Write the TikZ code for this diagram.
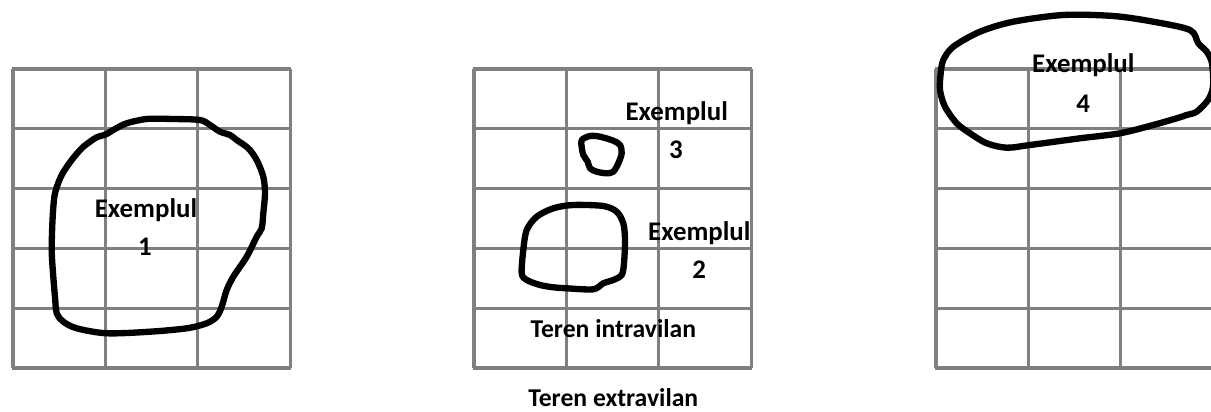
\documentclass[tikz,border=0pt]{standalone}
\usepackage{fontspec}
\setmainfont{Carlito}
\usetikzlibrary{positioning}

\tikzset{
  gridline/.style={draw=gray,line width=1.8pt},
  parcel/.style={draw=black,line width=3.6pt,line join=round,line cap=round},
  lbl/.style={font=\fontsize{15.3}{17}\selectfont\bfseries,inner sep=0pt},
  zone/.style={lbl,font=\fontsize{14.6}{17}\selectfont\bfseries}
}

\begin{document}
\begin{tikzpicture}[x=0.02cm,y=-0.02cm]
  \useasboundingbox (0,0) rectangle (1211,412);
  \clip (0,0) rectangle (1211,412);
  % the three grids, 3 columns x 5 rows
  \foreach \gx in {13,474,936}{
    \foreach \i in {0,...,3}
      \draw[gridline] ({\gx+\i*92.4},69) -- ({\gx+\i*92.4},368);
    \foreach \j in {0,...,5}
      \draw[gridline] (\gx-0.8,{69+\j*59.8}) -- ({\gx+278},{69+\j*59.8});
  }
  % example 1
  \draw[parcel] plot[smooth cycle,tension=0.5] coordinates {
    (81.7,148.3) (90,141.7) (96.7,137.3) (106,134.3) (115,129) (126.7,123.3)
    (146.7,119) (173.3,119) (200,120) (210,125) (220,131.7) (230,135)
    (236.7,140) (248.3,148.3) (256.7,160) (263.3,176.7) (265,193.3)
    (263.3,213.3) (261.7,228.3) (256.7,236.7) (246.7,256.7) (233.3,276.7)
    (226.7,290) (221.7,306.7) (216.7,316.7) (206.7,323.3) (186.7,328.3)
    (150,331.7) (106.7,333.3) (76.7,328.3) (63.3,321.7) (56.7,313.3)
    (55,296.7) (53.3,276.7) (51.7,250) (52.7,216.7) (55,193.3) (61.7,175)
    (71.7,160)};
  \node[lbl] (ex1) at (146,210) {Exemplul};
  \node[lbl] (nr1) at (145,247) {1};
  % example 3
  \draw[parcel] plot[smooth cycle,tension=0.5] coordinates {
    (581.7,140) (590,136) (600,136.7) (613.3,140.7) (620,145) (621.7,153.3)
    (618.3,163.3) (613.3,171.7) (606.7,173.3) (596.7,171.7) (590,168.3)
    (587.7,161.7) (583.3,155) (581.7,146.7)};
  \node[lbl] (ex3) at (676.7,113.5) {Exemplul};
  \node[lbl] (nr3) at (676,150) {3};
  % example 2
  \draw[parcel] plot[smooth cycle,tension=0.5] coordinates {
    (523.3,250) (526.7,230) (536.7,216.7) (553.3,208.3) (573.3,205)
    (603.3,206) (616.7,211.7) (623.3,223.3) (625,240) (624,263.3)
    (621.7,275) (613.3,280) (603.3,283.3) (593.3,289.3) (566.7,288.3)
    (553.3,287.3) (540,285) (526.7,280) (521.7,273.3)};
  \node[lbl] (ex2) at (699.3,233) {Exemplul};
  \node[lbl] (nr2) at (699.3,270) {2};
  \node[zone] (intra) at (613.3,328.5) {Teren intravilan};
  \node[zone] (extra) at (613.3,397.5) {Teren extravilan};
  % example 4
  \draw[parcel] plot[smooth cycle,tension=0.5] coordinates {
    (943.3,60) (953.3,46.7) (980,31.7) (1013.3,21.7) (1063.3,15)
    (1113.3,16) (1153.3,21.7) (1190,30) (1198.3,43.3) (1206.7,51.7)
    (1212,63.3) (1213,86.7) (1208,100) (1196.7,111.7) (1186.7,115)
    (1176.7,118.3) (1153.3,125) (1120,133.3) (1080,138.3) (1030,145)
    (1006.7,147.7) (986.7,143.3) (970,133.3) (956.7,123.3) (945,106.7)
    (940,90) (940.7,73.3)};
  \node[lbl] (ex4) at (1083.3,65) {Exemplul};
  \node[lbl] (nr4) at (1083.3,103.3) {4};
\end{tikzpicture}
\end{document}
